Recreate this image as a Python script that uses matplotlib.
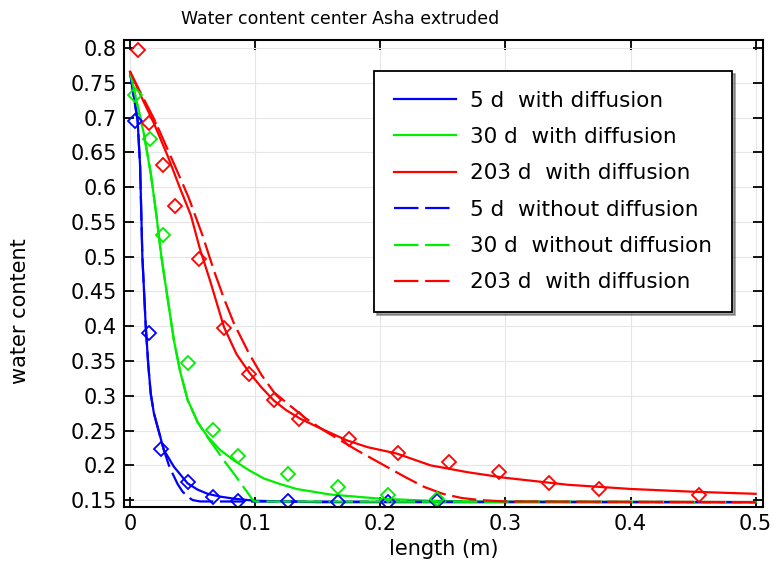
import numpy as np
import matplotlib.pyplot as plt

# measured points (diamonds)
x_blue_pts = [0.004, 0.015, 0.025, 0.046, 0.066, 0.086, 0.126, 0.166, 0.206, 0.245]
y_blue_pts = [0.695, 0.39, 0.224, 0.176, 0.155, 0.148, 0.148, 0.147, 0.147, 0.149]
x_green_pts = [0.004, 0.016, 0.026, 0.046, 0.066, 0.086, 0.126, 0.166, 0.206, 0.245]
y_green_pts = [0.733, 0.669, 0.531, 0.347, 0.251, 0.214, 0.187, 0.169, 0.157, 0.151]
x_red_pts = [0.006, 0.015, 0.026, 0.036, 0.055, 0.075, 0.095, 0.115, 0.135, 0.175,
             0.214, 0.255, 0.295, 0.335, 0.375, 0.455]
y_red_pts = [0.797, 0.692, 0.632, 0.573, 0.496, 0.398, 0.331, 0.294, 0.267, 0.238,
             0.218, 0.205, 0.19, 0.175, 0.166, 0.157]

# model curves, with diffusion (solid)
x_blue = [0, 0.003, 0.006, 0.008, 0.0098, 0.0125, 0.0145, 0.0165, 0.019, 0.022, 0.027,
          0.035, 0.046, 0.054, 0.062, 0.072, 0.083, 0.1, 0.15, 0.5]
y_blue = [0.765, 0.73, 0.696, 0.63, 0.5, 0.4, 0.345, 0.303, 0.275, 0.255, 0.222,
          0.198, 0.174, 0.165, 0.159, 0.155, 0.152, 0.149, 0.147, 0.147]
x_green = [0, 0.005, 0.011, 0.0165, 0.021, 0.025, 0.03, 0.035, 0.04, 0.046, 0.054, 0.062,
           0.072, 0.083, 0.095, 0.107, 0.12, 0.133, 0.16, 0.2, 0.24, 0.28, 0.5]
y_green = [0.765, 0.725, 0.677, 0.62, 0.56, 0.5, 0.44, 0.38, 0.335, 0.294, 0.262, 0.241,
           0.222, 0.207, 0.193, 0.181, 0.173, 0.166, 0.158, 0.152, 0.149, 0.148, 0.147]
x_red = [0, 0.01, 0.019, 0.03, 0.04, 0.0485, 0.056, 0.064, 0.075, 0.085, 0.095, 0.105, 0.115,
         0.125, 0.136, 0.15, 0.173, 0.19, 0.213, 0.24, 0.27, 0.3, 0.35, 0.4, 0.45, 0.5]
y_red = [0.766, 0.726, 0.692, 0.645, 0.598, 0.56, 0.51, 0.465, 0.399, 0.36, 0.334, 0.312, 0.293,
         0.279, 0.267, 0.255, 0.236, 0.226, 0.217, 0.2, 0.19, 0.182, 0.172, 0.166, 0.162, 0.159]

# model curves, without diffusion (dashed)
x_blue_nd = [0, 0.003, 0.006, 0.008, 0.0098, 0.0125, 0.0145, 0.0165, 0.019, 0.022, 0.027,
             0.031, 0.034, 0.038, 0.042, 0.046, 0.05, 0.056, 0.5]
y_blue_nd = [0.765, 0.73, 0.696, 0.63, 0.5, 0.4, 0.345, 0.303, 0.275, 0.255, 0.222,
             0.2, 0.188, 0.173, 0.162, 0.155, 0.15, 0.148, 0.147]
x_green_nd = [0, 0.005, 0.011, 0.0165, 0.021, 0.025, 0.03, 0.035, 0.04, 0.046, 0.054, 0.062,
              0.068, 0.075, 0.08, 0.085, 0.091, 0.095, 0.098, 0.1, 0.5]
y_green_nd = [0.765, 0.725, 0.677, 0.62, 0.56, 0.5, 0.44, 0.38, 0.335, 0.294, 0.262, 0.24,
              0.225, 0.207, 0.195, 0.183, 0.168, 0.158, 0.15, 0.148, 0.147]
x_red_nd = [0, 0.01, 0.02, 0.0325, 0.042, 0.047, 0.058, 0.067, 0.075, 0.083, 0.095, 0.105,
            0.115, 0.125, 0.14, 0.155, 0.181, 0.205, 0.22, 0.235, 0.25, 0.265, 0.28, 0.3, 0.5]
y_red_nd = [0.766, 0.73, 0.695, 0.644, 0.605, 0.584, 0.53, 0.48, 0.44, 0.404, 0.361, 0.33,
            0.305, 0.29, 0.268, 0.25, 0.222, 0.198, 0.183, 0.169, 0.159, 0.153, 0.15, 0.148, 0.147]

labels = ['5 d  with diffusion', '30 d  with diffusion', '203 d  with diffusion',
          '5 d  without diffusion', '30 d  without diffusion', '203 d  with diffusion']
xticks = [0, 0.1, 0.2, 0.3, 0.4, 0.5]
xticklabels = ['0', '0.1', '0.2', '0.3', '0.4', '0.5']
yticks = [0.15, 0.2, 0.25, 0.3, 0.35, 0.4, 0.45, 0.5, 0.55, 0.6, 0.65, 0.7, 0.75, 0.8]
yticklabels = ['0.15', '0.2', '0.25', '0.3', '0.35', '0.4', '0.45', '0.5', '0.55', '0.6',
               '0.65', '0.7', '0.75', '0.8']

blue, green, red = '#0000ff', '#00ee00', '#ff0000'
dash = (11, 3)

fig = plt.figure(figsize=(7.74, 5.64), dpi=100)
ax = fig.add_axes([0.160, 0.101, 0.826, 0.828])

lw = 1.6
ax.plot(x_blue, y_blue, color=blue, lw=lw, label=labels[0])
ax.plot(x_green, y_green, color=green, lw=lw, label=labels[1])
ax.plot(x_red, y_red, color=red, lw=lw, label=labels[2])
ax.plot(x_blue_nd, y_blue_nd, color=blue, lw=lw, dashes=dash, label=labels[3])
ax.plot(x_green_nd, y_green_nd, color=green, lw=lw, dashes=dash, label=labels[4])
ax.plot(x_red_nd, y_red_nd, color=red, lw=lw, dashes=dash, label=labels[5])

mk = dict(marker='D', ms=7.5, mfc='none', mew=1.3, ls='none')
ax.plot(x_blue_pts, y_blue_pts, color=blue, **mk)
ax.plot(x_green_pts, y_green_pts, color=green, **mk)
ax.plot(x_red_pts, y_red_pts, color=red, **mk)

ax.set_xlim(-0.005, 0.506)
ax.set_ylim(0.14, 0.8115)
ax.set_xticks(xticks)
ax.set_xticklabels(xticklabels)
ax.set_yticks(yticks)
ax.set_yticklabels(yticklabels)
ax.tick_params(direction='in', length=7, width=1.3, labelsize=15,
               top=True, right=True, pad=5)
ax.grid(True, color='#e6e6e6', lw=0.8)
ax.set_axisbelow(True)
for s in ax.spines.values():
    s.set_linewidth(1.5)

ax.set_xlabel('length (m)', fontsize=15)
ax.xaxis.set_label_coords(0.5, -0.068)
ax.set_ylabel('water content', fontsize=15)
ax.yaxis.set_label_coords(-0.146, 0.42)
fig.text(0.44, 0.966, 'Water content center Asha extruded', fontsize=12.5, ha='center', va='center')

leg = ax.legend(loc='upper left', bbox_to_anchor=(0.391, 0.934), fontsize=15.5,
                handlelength=2.9, handletextpad=0.65, labelspacing=0.76, fancybox=False,
                shadow=True, edgecolor='black', framealpha=1, borderpad=0.92,
                borderaxespad=0)
leg.get_frame().set_linewidth(1.3)

fig.savefig('out.png', dpi=100)
